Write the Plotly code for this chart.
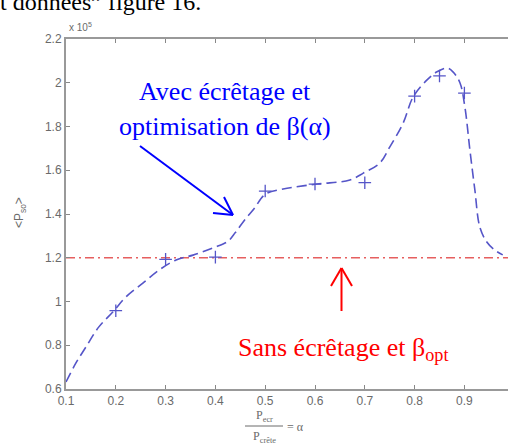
import plotly.graph_objects as go

# ---- data (P values in units of 1e5) ----
alpha_pts = [0.2, 0.3, 0.4, 0.5, 0.6, 0.7, 0.8, 0.85, 0.9]
p_pts = [0.958, 1.193, 1.203, 1.505, 1.537, 1.543, 1.939, 2.031, 1.953]

alpha_curve = [0.100, 0.120, 0.140, 0.166, 0.194, 0.220, 0.255, 0.287, 0.321, 0.355,
               0.395, 0.425, 0.440, 0.458, 0.478, 0.500, 0.536, 0.604, 0.670, 0.697,
               0.730, 0.750, 0.777, 0.797, 0.825, 0.845, 0.865, 0.877, 0.891, 0.901,
               0.911, 0.921, 0.931, 0.945, 0.961, 0.977]
p_curve = [0.632, 0.719, 0.792, 0.884, 0.952, 1.020, 1.085, 1.144, 1.190, 1.212,
           1.245, 1.275, 1.315, 1.370, 1.425, 1.490, 1.514, 1.537, 1.555, 1.587,
           1.633, 1.706, 1.816, 1.935, 2.013, 2.050, 2.067, 2.050, 2.000, 1.889,
           1.693, 1.510, 1.340, 1.272, 1.235, 1.213]

ref_level = 1.2
x_ticks = [0.1, 0.2, 0.3, 0.4, 0.5, 0.6, 0.7, 0.8, 0.9]
y_ticks = [0.6, 0.8, 1.0, 1.2, 1.4, 1.6, 1.8, 2.0, 2.2]
y_tick_text = ["0.6", "0.8", "1", "1.2", "1.4", "1.6", "1.8", "2", "2.2"]

# ---- layout geometry (pixels) ----
W, H = 508, 448
L, T, B, R = 66, 39, 389, 508
PW, PH = R - L, B - T

def px(x):
    return (x - L) / PW

def py(y):
    return (B - y) / PH

BLUE_LINE = "rgb(85,85,200)"
RED_LINE = "rgb(230,95,95)"
GRAY = "#6a6a6a"

fig = go.Figure()

fig.add_trace(go.Scatter(
    x=[0.1, 0.99], y=[ref_level, ref_level], mode="lines",
    line=dict(color=RED_LINE, width=1.6, dash="9px,4px,2px,4px"),
    hoverinfo="skip", showlegend=False))

fig.add_trace(go.Scatter(
    x=alpha_curve, y=p_curve, mode="lines", line_shape="spline",
    line=dict(color=BLUE_LINE, width=1.6, dash="10px,5px"),
    showlegend=False))

fig.add_trace(go.Scatter(
    x=alpha_pts, y=p_pts, mode="markers",
    marker=dict(symbol="cross-thin", size=9, line=dict(color=BLUE_LINE, width=1.3)),
    showlegend=False))

tickfont = dict(family="Liberation Sans, Arial", size=12, color=GRAY)

fig.update_layout(
    width=W, height=H,
    margin=dict(l=L, r=W - R, t=T, b=H - B),
    paper_bgcolor="white", plot_bgcolor="white",
    xaxis=dict(range=[0.1, 0.1 + PW / 498.0], tickvals=x_ticks,
               ticks="inside", ticklen=4, tickcolor="#888", tickwidth=1,
               showline=True, linecolor="#999", linewidth=2, mirror="ticks",
               showgrid=False, zeroline=False, tickfont=tickfont, automargin=False),
    yaxis=dict(range=[0.6, 2.2], tickvals=y_ticks, ticktext=y_tick_text,
               ticks="inside", ticklen=4, tickcolor="#888", tickwidth=1,
               showline=True, linecolor="#999", linewidth=2,
               showgrid=False, zeroline=False, tickfont=tickfont, automargin=False),
)

serif = "Liberation Serif, Times New Roman"
ann = []
# clipped top text
ann.append(dict(text="t données\u201d figure 16.", x=px(-2), y=py(2), xref="paper", yref="paper",
                xanchor="left", yanchor="middle", showarrow=False,
                font=dict(family=serif, size=24, color="black")))
# x 10^5
ann.append(dict(text="x 10<sup>5</sup>", x=px(67), y=py(27), xref="paper", yref="paper",
                xanchor="left", yanchor="middle", showarrow=False,
                font=dict(family="Liberation Sans, Arial", size=10, color=GRAY)))
# y label
ann.append(dict(text="&lt;P<sub>so</sub>&gt;", x=px(20), y=py(213), xref="paper", yref="paper",
                xanchor="center", yanchor="middle", showarrow=False, textangle=-90,
                font=dict(family="Liberation Sans, Arial", size=12, color=GRAY)))
# x label fraction
ann.append(dict(text="P<sub>ecr</sub>", x=px(264), y=py(416), xref="paper", yref="paper",
                xanchor="center", yanchor="middle", showarrow=False,
                font=dict(family=serif, size=12, color=GRAY)))
ann.append(dict(text="P<sub>crête</sub>", x=px(264), y=py(437), xref="paper", yref="paper",
                xanchor="center", yanchor="middle", showarrow=False,
                font=dict(family=serif, size=12, color=GRAY)))
ann.append(dict(text="= α", x=px(285), y=py(427), xref="paper", yref="paper",
                xanchor="left", yanchor="middle", showarrow=False,
                font=dict(family=serif, size=12, color=GRAY)))
# blue annotation text
ann.append(dict(text="Avec écrêtage et", x=px(225), y=py(91), xref="paper", yref="paper",
                xanchor="center", yanchor="middle", showarrow=False,
                font=dict(family=serif, size=26, color="#0000ff")))
ann.append(dict(text="optimisation de β(α)", x=px(225), y=py(126), xref="paper", yref="paper",
                xanchor="center", yanchor="middle", showarrow=False,
                font=dict(family=serif, size=26, color="#0000ff")))
# red annotation text
ann.append(dict(text="Sans écrêtage et β<sub>opt</sub>", x=px(236), y=py(349), xref="paper", yref="paper",
                xanchor="left", yanchor="middle", showarrow=False,
                font=dict(family=serif, size=26, color="#ff0000")))
fig.update_layout(annotations=ann)

def seg(x0, y0, x1, y1, color, width):
    return dict(type="line", xref="paper", yref="paper",
                x0=px(x0), y0=py(y0), x1=px(x1), y1=py(y1),
                line=dict(color=color, width=width))

shapes = [
    # fraction bar
    seg(245, 426, 283, 426, GRAY, 1),
    # blue arrow
    seg(140, 146, 233, 215, "#0000ff", 2),
    seg(233, 215, 213, 213, "#0000ff", 2),
    seg(233, 215, 224, 197, "#0000ff", 2),
    # red arrow
    seg(341.5, 311, 341.5, 268, "#ff0000", 2),
    seg(341.5, 268, 331, 286, "#ff0000", 2),
    seg(341.5, 268, 352, 286, "#ff0000", 2),
]
fig.update_layout(shapes=shapes)

fig.write_html("out.html", config={"displayModeBar": False},
               post_script="document.body.style.margin='0';document.body.style.overflow='hidden';")
